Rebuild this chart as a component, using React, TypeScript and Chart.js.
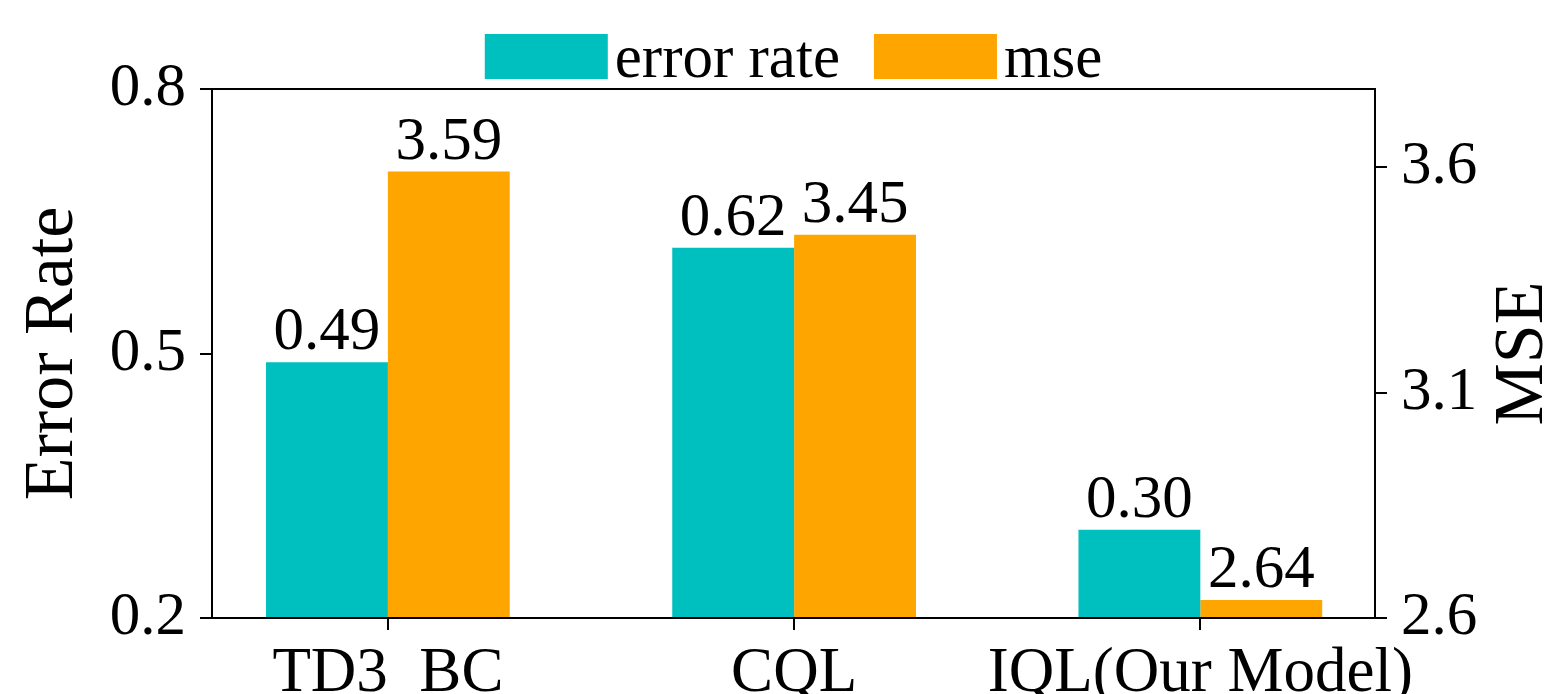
import React, { useEffect, useRef } from 'react';
import { Chart, registerables } from 'chart.js';

Chart.register(...registerables);

const categories = ['TD3_BC', 'CQL', 'IQL(Our Model)'];
const errorRate = [0.49, 0.62, 0.3];
const mse = [3.59, 3.45, 2.64];
const seriesNames = ['error rate', 'mse'];
const leftTicks = [0.2, 0.5, 0.8];
const rightTicks = [2.6, 3.1, 3.6];
const xTicks = [0, 1, 2];
const leftTitle = 'Error Rate';
const rightTitle = 'MSE';

const FONT = '"Liberation Serif", "Times New Roman", Times, serif';
const TEAL = '#00BFBF';
const ORANGE = '#FFA500';
const TICK_SIZE = 61;
const XTICK_SIZE = 63;
const TITLE_SIZE = 70;

const framePlugin = {
  id: 'frame',
  afterDraw(chart: any) {
    const { ctx, chartArea } = chart;
    ctx.save();
    ctx.strokeStyle = '#000';
    ctx.lineWidth = 2;
    ctx.strokeRect(chartArea.left, chartArea.top, chartArea.right - chartArea.left, chartArea.bottom - chartArea.top);
    ctx.restore();
  },
};

const valueLabelPlugin = {
  id: 'valueLabels',
  afterDatasetsDraw(chart: any) {
    const { ctx } = chart;
    ctx.save();
    ctx.font = `${TICK_SIZE}px ${FONT}`;
    ctx.fillStyle = '#000';
    ctx.textAlign = 'center';
    ctx.textBaseline = 'alphabetic';
    chart.data.datasets.forEach((ds: any, i: number) => {
      const meta = chart.getDatasetMeta(i);
      meta.data.forEach((el: any, j: number) => {
        const v = ds.data[j].y;
        ctx.fillText(Number(v).toFixed(2), el.x, el.y - 13);
      });
    });
    ctx.restore();
  },
};

const customLegendPlugin = {
  id: 'customLegend',
  afterDraw(chart: any) {
    const { ctx, chartArea } = chart;
    const boxW = 123;
    const boxH = 45;
    const gap = 7;
    const itemGap = 34;
    ctx.save();
    ctx.font = `${TICK_SIZE}px ${FONT}`;
    const items = chart.data.datasets.map((ds: any) => ({
      label: ds.label,
      color: ds.backgroundColor,
      w: ctx.measureText(ds.label).width,
    }));
    const total = items.reduce((a: number, it: any) => a + boxW + gap + it.w, 0) + itemGap * (items.length - 1);
    let x = (chartArea.left + chartArea.right) / 2 - total / 2;
    const boxTop = chartArea.top - 55;
    const baseline = chartArea.top - 12;
    items.forEach((it: any) => {
      ctx.fillStyle = it.color;
      ctx.fillRect(x, boxTop, boxW, boxH);
      ctx.fillStyle = '#000';
      ctx.textAlign = 'left';
      ctx.textBaseline = 'alphabetic';
      ctx.fillText(it.label, x + boxW + gap, baseline);
      x += boxW + gap + it.w + itemGap;
    });
    ctx.restore();
  },
};

const rightTitlePlugin = {
  id: 'rightTitle',
  afterDraw(chart: any) {
    const { ctx, chartArea } = chart;
    const s = chart.scales.y1;
    ctx.save();
    ctx.font = `${TITLE_SIZE}px ${FONT}`;
    ctx.fillStyle = '#000';
    ctx.translate(s.right - 3, (chartArea.top + chartArea.bottom) / 2);
    ctx.rotate(-Math.PI / 2);
    ctx.textAlign = 'center';
    ctx.textBaseline = 'alphabetic';
    ctx.fillText(rightTitle, 0, 0);
    ctx.restore();
  },
};

export default function App() {
  const canvasRef = useRef<HTMLCanvasElement | null>(null);

  useEffect(() => {
    const canvas = canvasRef.current;
    if (!canvas) return;
    const tickFont = { family: FONT, size: TICK_SIZE };
    const chart = new Chart(canvas, {
      type: 'bar',
      data: {
        datasets: [
          {
            label: seriesNames[0],
            data: errorRate.map((v, i) => ({ x: xTicks[i], y: v })),
            backgroundColor: TEAL,
            borderWidth: 0,
            yAxisID: 'y',
            categoryPercentage: 0.6,
            barPercentage: 1,
          },
          {
            label: seriesNames[1],
            data: mse.map((v, i) => ({ x: xTicks[i], y: v })),
            backgroundColor: ORANGE,
            borderWidth: 0,
            yAxisID: 'y1',
            categoryPercentage: 0.6,
            barPercentage: 1,
          },
        ],
      },
      options: {
        responsive: false,
        animation: false,
        layout: { padding: { top: 89, left: 0, right: 0, bottom: 0 } },
        plugins: {
          legend: { display: false },
          tooltip: { enabled: false },
        },
        scales: {
          x: {
            type: 'linear',
            offset: false,
            min: -0.433,
            max: 2.43,
            afterBuildTicks: (s: any) => {
              s.ticks = xTicks.map((v) => ({ value: v }));
            },
            ticks: {
              callback: (v: any) => categories[Number(v)] ?? '',
              font: { family: FONT, size: XTICK_SIZE },
              color: '#000',
              padding: 7,
              maxRotation: 0,
              autoSkip: false,
            },
            grid: { display: true, offset: false, drawOnChartArea: false, drawTicks: true, tickLength: 12, color: '#000', lineWidth: 2 },
            border: { display: false },
            afterFit: (s: any) => {
              s.height = 76;
            },
          },
          y: {
            type: 'linear',
            position: 'left',
            min: 0.2,
            max: 0.8,
            afterBuildTicks: (s: any) => {
              s.ticks = leftTicks.map((v) => ({ value: v }));
            },
            ticks: {
              callback: (v: any) => Number(v).toFixed(1),
              font: tickFont,
              color: '#000',
              padding: 14,
            },
            grid: { display: true, drawOnChartArea: false, drawTicks: true, tickLength: 12, color: '#000', lineWidth: 2 },
            border: { display: false },
            title: {
              display: true,
              text: leftTitle,
              font: { family: FONT, size: TITLE_SIZE },
              color: '#000',
              padding: { top: 12, bottom: 0 },
            },
            afterFit: (s: any) => {
              s.width = 212;
            },
          },
          y1: {
            type: 'linear',
            position: 'right',
            min: 2.6,
            max: 3.773,
            afterBuildTicks: (s: any) => {
              s.ticks = rightTicks.map((v) => ({ value: v }));
            },
            ticks: {
              callback: (v: any) => Number(v).toFixed(1),
              font: tickFont,
              color: '#000',
              padding: 14,
            },
            grid: { display: true, drawOnChartArea: false, drawTicks: true, tickLength: 12, color: '#000', lineWidth: 2 },
            border: { display: false },
            afterFit: (s: any) => {
              s.width = 170;
            },
          },
        },
      } as any,
      plugins: [framePlugin, valueLabelPlugin, customLegendPlugin, rightTitlePlugin],
    });
    return () => {
      chart.destroy();
    };
  }, []);

  return (
    <div style={{ position: 'fixed', left: 0, top: 0, width: 1545, height: 694, background: '#fff' }}>
      <canvas ref={canvasRef} width={1545} height={694} style={{ display: 'block' }} />
    </div>
  );
}
